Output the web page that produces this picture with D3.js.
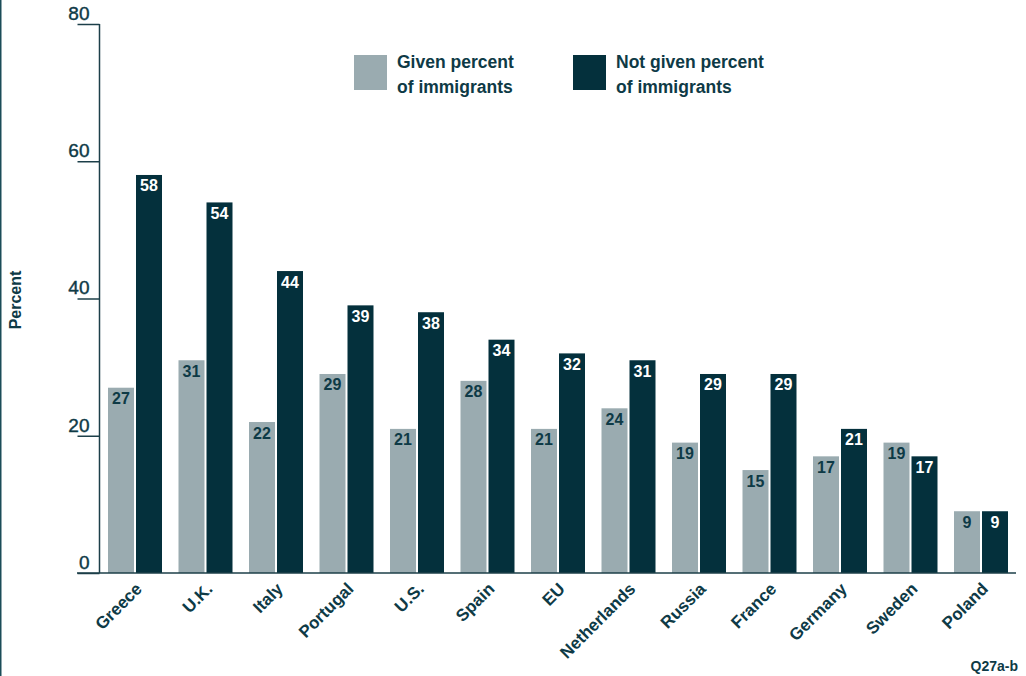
<!DOCTYPE html>
<html>
<head>
<meta charset="utf-8">
<script src="https://cdn.jsdelivr.net/npm/d3@7/dist/d3.min.js"></script>
<style>
  html, body { margin: 0; padding: 0; background: #ffffff; }
  svg { display: block; font-family: "Liberation Sans", Arial, sans-serif; }
</style>
</head>
<body>
<svg id="chart" width="1026" height="676"></svg>
<script>
// Countries, in the order they are plotted
const countries = ["Greece", "U.K.", "Italy", "Portugal", "U.S.", "Spain", "EU",
  "Netherlands", "Russia", "France", "Germany", "Sweden", "Poland"];
// Percent who say the figure was given vs. not given
const givenValues    = [27, 31, 22, 29, 21, 28, 21, 24, 19, 15, 17, 19, 9];
const notGivenValues = [58, 54, 44, 39, 38, 34, 32, 31, 29, 29, 21, 17, 9];
const seriesNames = ["Given percent of immigrants", "Not given percent of immigrants"];
const yTicks = [0, 20, 40, 60, 80];

const textColor = "#0e3a46";
const seriesColors = ["#9aabb0", "#04303c"];
const labelColors = ["#0e3a46", "#ffffff"];

const svg = d3.select("#chart");

const x0 = d3.scaleBand().domain(countries).range([108, 1008])
  .paddingInner(16.5 / 70.5).paddingOuter(0);
const x1 = d3.scaleBand().domain([0, 1]).range([0, x0.bandwidth()])
  .paddingInner(2 / 28).paddingOuter(0);
const y = d3.scaleLinear().domain([0, 80]).range([573, 24]);

// left frame line
svg.append("line").attr("x1", 0.75).attr("x2", 0.75).attr("y1", 0).attr("y2", 676)
  .attr("stroke", "#1b4d58").attr("stroke-width", 1.5);

// bars
const rows = countries.map((c, i) => ({ country: c, values: [givenValues[i], notGivenValues[i]] }));
const groups = svg.append("g").selectAll("g").data(rows).join("g")
  .attr("transform", d => `translate(${x0(d.country)},0)`);

groups.selectAll("rect").data(d => d.values.map((v, s) => ({ v, s }))).join("rect")
  .attr("x", d => x1(d.s))
  .attr("width", x1.bandwidth())
  .attr("y", d => y(d.v))
  .attr("height", d => y(0) - y(d.v))
  .attr("fill", d => seriesColors[d.s]);

groups.selectAll("text").data(d => d.values.map((v, s) => ({ v, s }))).join("text")
  .attr("x", d => x1(d.s) + x1.bandwidth() / 2)
  .attr("y", d => y(d.v) + 16.5)
  .attr("text-anchor", "middle")
  .attr("font-size", 16)
  .attr("font-weight", "bold")
  .attr("fill", d => labelColors[d.s])
  .text(d => d.v);

// y axis
const yAxis = d3.axisLeft(y).tickValues(yTicks).tickSize(22).tickPadding(0);
const gy = svg.append("g").attr("transform", "translate(99.5,0)").call(yAxis);
gy.select(".domain").attr("stroke", "#1c3f49").attr("stroke-width", 1.5)
  .attr("d", `M0,${y(80)}V${y(0)}`);
gy.selectAll(".tick line").attr("stroke", "#1c3f49").attr("stroke-width", 1.5);
gy.selectAll(".tick text")
  .attr("x", -10).attr("dy", "-0.25em")
  .attr("font-size", 19).attr("fill", textColor)
  .attr("stroke", textColor).attr("stroke-width", 0.4)
  .attr("font-family", "'Liberation Sans', Arial, sans-serif");

// baseline
svg.append("line").attr("x1", 77).attr("x2", 1016).attr("y1", y(0)).attr("y2", y(0))
  .attr("stroke", "#1c3f49").attr("stroke-width", 1.5);

// country labels
const xAxis = d3.axisBottom(x0).tickSize(0).tickPadding(0);
const gx = svg.append("g").attr("transform", `translate(0,${y(0)})`).call(xAxis);
gx.select(".domain").remove();
gx.selectAll(".tick text")
  .attr("font-size", 17).attr("font-weight", "bold").attr("fill", textColor)
  .attr("font-family", "'Liberation Sans', Arial, sans-serif")
  .attr("text-anchor", "end")
  .attr("dy", 0)
  .attr("transform", "translate(8,17) rotate(-45)");

// y axis title
svg.append("text").attr("transform", "translate(21,300) rotate(-90)")
  .attr("text-anchor", "middle").attr("font-size", 16).attr("font-weight", "bold")
  .attr("fill", textColor).text("Percent");

// legend
const legendItems = [
  { x: 354, lines: ["Given percent", "of immigrants"] },
  { x: 573, lines: ["Not given percent", "of immigrants"] }
];
const lg = svg.append("g").selectAll("g").data(legendItems).join("g")
  .attr("transform", d => `translate(${d.x},55)`);
lg.append("rect").attr("width", 33).attr("height", 35)
  .attr("fill", (d, i) => seriesColors[i]);
lg.append("text").attr("x", 43).attr("font-size", 17.5).attr("font-weight", "bold")
  .attr("fill", textColor)
  .selectAll("tspan").data(d => d.lines).join("tspan")
  .attr("x", 43).attr("y", (d, i) => 13 + i * 25).text(d => d);

// question reference
svg.append("text").attr("x", 1018).attr("y", 671).attr("text-anchor", "end")
  .attr("font-size", 14).attr("font-weight", "bold").attr("fill", textColor)
  .text("Q27a-b");
</script>
</body>
</html>
